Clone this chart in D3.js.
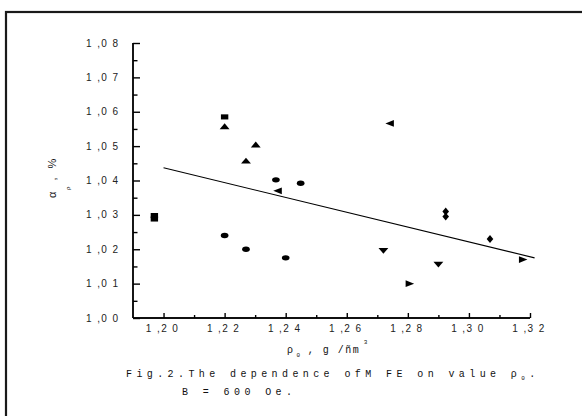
<meta charset="UTF-8">
<script src="https://d3js.org/d3.v7.min.js"></script>
<body style="margin:0;background:#fff">
<div id="my_dataviz"></div>
<script>
// values: density rho0 (g/cm3) and alpha_rho (%)
var squares   = [[1.197, 1.0288], [1.197, 1.0298], [1.220, 1.0585]];
var circles   = [[1.220, 1.0240], [1.227, 1.0200], [1.2368, 1.0402], [1.240, 1.0175], [1.2449, 1.0392]];
var upTri     = [[1.220, 1.0555], [1.227, 1.0455], [1.2302, 1.0502]];
var downTri   = [[1.272, 1.0198], [1.290, 1.0158]];
var diamonds  = [[1.2924, 1.0310], [1.2924, 1.0295], [1.3069, 1.0230]];
var leftTri   = [[1.2378, 1.0370], [1.2745, 1.0566]];
var rightTri  = [[1.2802, 1.0100], [1.3173, 1.0170]];
// linear fit end points
var fitX = [1.200, 1.3215];
var fitY = [1.0437, 1.0175];

var xTicks = [1.20, 1.22, 1.24, 1.26, 1.28, 1.30, 1.32];
var yTicks = [1.00, 1.01, 1.02, 1.03, 1.04, 1.05, 1.06, 1.07, 1.08];

var width = 582, height = 416;

var svg = d3.select("#my_dataviz")
  .append("svg")
    .attr("width", width)
    .attr("height", height)

// outer frame, runs off the right and bottom edge
svg.append("rect")
  .attr("x", 6).attr("y", 12)
  .attr("width", 640).attr("height", 460)
  .attr("fill", "none")
  .attr("stroke", "#1a1a1a")
  .attr("stroke-width", 2.2)

var x = d3.scaleLinear().domain([1.19, 1.32]).range([133, 530]);
var y = d3.scaleLinear().domain([1.00, 1.08]).range([318, 43]);

function fmt(d) {
  var s = d.toFixed(2).replace(".", ",");
  return s[0] + " " + s.slice(1, 3) + " " + s[3];
}

// y axis, ticks pointing inward
var yAxis = svg.append("g")
  .attr("transform", "translate(133,0)")
  .call(d3.axisRight(y).tickValues(yTicks).tickSize(7).tickFormat(""));
yAxis.append("g").call(d3.axisRight(y).tickValues(d3.range(1.005, 1.08, 0.01)).tickSize(4.5).tickFormat(""));
yAxis.selectAll("line, path").attr("stroke", "#000").attr("stroke-width", 1.4);
yAxis.selectAll("path").attr("d", "M0," + y(1.08) + "V" + y(1.00));

svg.append("g").selectAll("text")
  .data(yTicks)
  .enter()
  .append("text")
    .attr("x", 86)
    .attr("y", function(d) { return y(d) + 3.5; })
    .text(fmt)
    .style("font-family", "Liberation Sans, Arial, sans-serif")
    .style("font-size", "10px")
    .style("letter-spacing", "1.4px")
    .attr("fill", "#222")

// x axis, ticks pointing inward
var xAxis = svg.append("g")
  .attr("transform", "translate(0,318)")
  .call(d3.axisTop(x).tickValues(xTicks).tickSize(5).tickFormat(""));
xAxis.append("g").call(d3.axisTop(x).tickValues(d3.range(1.21, 1.32, 0.02)).tickSize(3).tickFormat(""));
xAxis.selectAll("line, path").attr("stroke", "#000").attr("stroke-width", 1.4);
xAxis.selectAll("path").attr("d", "M" + x(1.19) + ",0H" + x(1.32));

svg.append("g").selectAll("text")
  .data(xTicks)
  .enter()
  .append("text")
    .attr("x", function(d) { return x(d) - 1; })
    .attr("y", 332)
    .attr("text-anchor", "middle")
    .text(fmt)
    .style("font-family", "Liberation Sans, Arial, sans-serif")
    .style("font-size", "10px")
    .style("letter-spacing", "1.4px")
    .attr("fill", "#222")

// fitted line
svg.append("path")
  .datum(d3.zip(fitX, fitY))
  .attr("fill", "none")
  .attr("stroke", "#000")
  .attr("stroke-width", 1.1)
  .attr("d", d3.line().x(function(d) { return x(d[0]); }).y(function(d) { return y(d[1]); }))

// markers (the source picture is stretched sideways, so are the symbols)
function addSeries(data, type, size, angle) {
  svg.append("g")
    .selectAll("path")
    .data(data)
    .enter()
    .append("path")
      .attr("d", d3.symbol().type(type).size(size))
      .attr("fill", "#000")
      .attr("transform", function(d) {
        return "translate(" + x(d[0]) + "," + y(d[1]) + ") scale(1.45,1) rotate(" + angle + ")";
      })
}
addSeries(squares, d3.symbolSquare, 26, 0);
addSeries(circles, d3.symbolCircle, 22, 0);
addSeries(upTri, d3.symbolTriangle, 20, 0);
addSeries(downTri, d3.symbolTriangle, 20, 180);
addSeries(diamonds, d3.symbolDiamond, 18, 0);
addSeries(leftTri, d3.symbolTriangle, 20, -90);
addSeries(rightTri, d3.symbolTriangle, 20, 90);

// y axis title
var yt = svg.append("text")
  .attr("transform", "translate(56,198) rotate(-90)")
  .style("font-family", "Liberation Sans, Arial, sans-serif")
  .style("font-size", "11px")
  .attr("fill", "#111")
yt.append("tspan").text("α");
yt.append("tspan").attr("dy", 14).style("font-size", "6px").text(" ρ");
yt.append("tspan").attr("dy", -14).style("letter-spacing", "3px").text(" ,  %");

// x axis title
var xt = svg.append("text")
  .attr("x", 287).attr("y", 353)
  .style("font-family", "Liberation Mono, monospace")
  .style("font-size", "10px")
  .attr("fill", "#111")
xt.append("tspan").text("ρ");
xt.append("tspan").attr("dy", 4).style("font-size", "6px").text(" 0");
xt.append("tspan").attr("dy", -4).style("letter-spacing", "1.5px").text(" , g /ñm");
xt.append("tspan").attr("dy", -9).style("font-size", "6px").text("  3");

// caption
var cap = svg.append("text")
  .attr("x", 126).attr("y", 377)
  .style("font-family", "Liberation Mono, monospace")
  .style("font-size", "10px")
  .style("letter-spacing", "4.4px")
  .attr("fill", "#111")
cap.append("tspan").text("Fig.2.The dependence ofM FE on value ρ");
cap.append("tspan").attr("dy", 3).style("font-size", "6px").text("0");
cap.append("tspan").attr("dy", -3).text(".");

svg.append("text")
  .attr("x", 182).attr("y", 395)
  .style("font-family", "Liberation Mono, monospace")
  .style("font-size", "10px")
  .style("letter-spacing", "4.4px")
  .attr("fill", "#111")
  .text("B = 600 Oe.")
</script>
</body>
